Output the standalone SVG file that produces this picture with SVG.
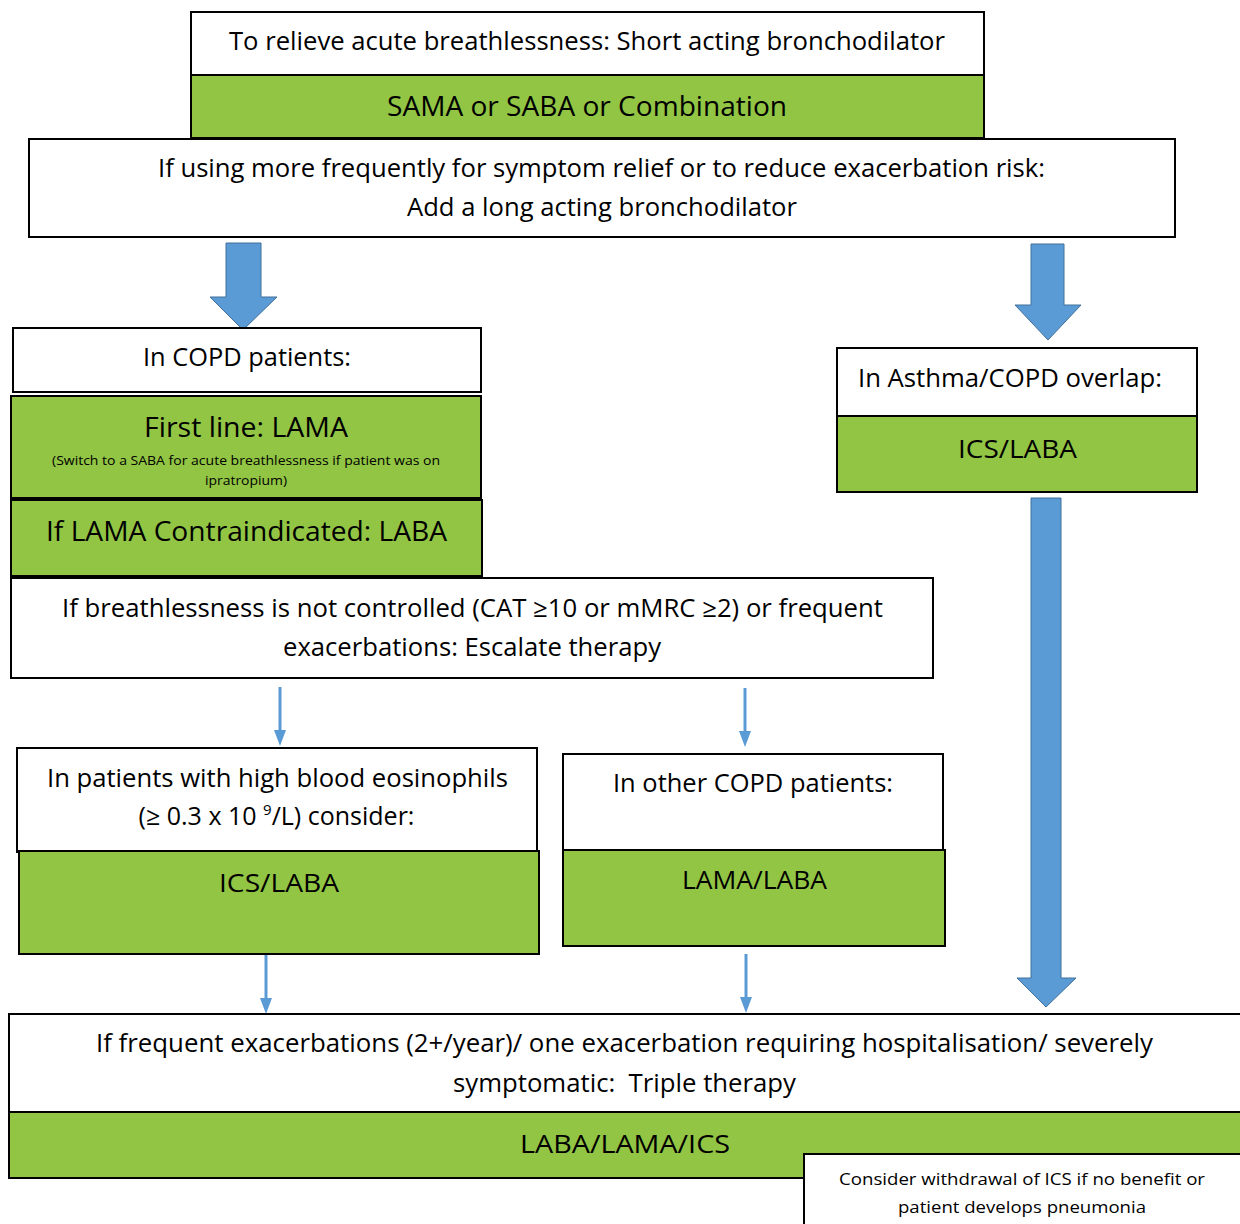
<svg xmlns="http://www.w3.org/2000/svg" width="1240" height="1224" viewBox="0 0 1240 1224">
<style>
.w{fill:#fff;stroke:#000;stroke-width:2}
.g{fill:#92C544;stroke:#000;stroke-width:2}
text{font-family:"Open Sans","Noto Sans",sans-serif;fill:#000;text-anchor:middle}
.t{font-size:25px}
.b{font-size:27px}
.s{font-size:12px}
.n{font-size:17px}
.big{fill:#5B9BD5;stroke:#41719C;stroke-width:1}
.thin{stroke:#5B9BD5;stroke-width:3;fill:none}
.head{fill:#5B9BD5}
</style>
<rect width="1240" height="1224" fill="#fff"/>
<g id="connectors">
<polygon class="big" points="226,243 261,243 261,297 277,297 243,330 210,297 226,297"/>
<polygon class="big" points="1031,244 1064,244 1064,305 1081,305 1048,340 1015,305 1031,305"/>
<polygon class="big" points="1031,498 1061,498 1061,978 1076,978 1046,1007 1017,978 1031,978"/>
<line class="thin" x1="280" y1="687" x2="280" y2="732"/><polygon class="head" points="274,730 286,730 280,746"/>
<line class="thin" x1="745" y1="688" x2="745" y2="733"/><polygon class="head" points="739,731 751,731 745,747"/>
<line class="thin" x1="266" y1="955" x2="266" y2="1000"/><polygon class="head" points="260,998 272,998 266,1014"/>
<line class="thin" x1="746" y1="954" x2="746" y2="999"/><polygon class="head" points="740,997 752,997 746,1013"/>
</g>
<g id="n-relieve">
<rect class="w" x="191" y="12" width="793" height="63"/>
<text class="t" x="587" y="50" textLength="716" lengthAdjust="spacingAndGlyphs">To relieve acute breathlessness: Short acting bronchodilator</text>
</g>
<g id="n-sama">
<rect class="g" x="191" y="75" width="793" height="63"/>
<text class="b" x="587" y="116" textLength="400" lengthAdjust="spacingAndGlyphs">SAMA or SABA or Combination</text>
</g>
<g id="n-add">
<rect class="w" x="29" y="139" width="1146" height="98"/>
<text class="t" x="601.5" y="177" textLength="887" lengthAdjust="spacingAndGlyphs">If using more frequently for symptom relief or to reduce exacerbation risk:</text>
<text class="t" x="602" y="216" textLength="390" lengthAdjust="spacingAndGlyphs">Add a long acting bronchodilator</text>
</g>
<g id="n-copd">
<rect class="w" x="13" y="328" width="468" height="64"/>
<text class="t" x="247" y="366" textLength="208" lengthAdjust="spacingAndGlyphs">In COPD patients:</text>
</g>
<g id="n-lama">
<rect class="g" x="11" y="396" width="470" height="102"/>
<text class="b" x="246" y="437" textLength="204" lengthAdjust="spacingAndGlyphs">First line: LAMA</text>
<text class="s" x="246" y="465" textLength="388" lengthAdjust="spacingAndGlyphs">(Switch to a SABA for acute breathlessness if patient was on</text>
<text class="s" x="246" y="485" textLength="82" lengthAdjust="spacingAndGlyphs">ipratropium)</text>
</g>
<g id="n-laba">
<rect class="g" x="11" y="500" width="471" height="76"/>
<text class="b" x="246.5" y="541" textLength="401" lengthAdjust="spacingAndGlyphs">If LAMA Contraindicated: LABA</text>
</g>
<g id="n-escalate">
<rect class="w" x="11" y="578" width="922" height="100"/>
<text class="t" x="472.5" y="617" textLength="821" lengthAdjust="spacingAndGlyphs">If breathlessness is not controlled (CAT ≥10 or mMRC ≥2) or frequent</text>
<text class="t" x="472" y="656" textLength="378" lengthAdjust="spacingAndGlyphs">exacerbations: Escalate therapy</text>
</g>
<g id="n-asthma">
<rect class="w" x="837" y="348" width="360" height="68"/>
<text class="t" x="1010" y="387" textLength="304" lengthAdjust="spacingAndGlyphs">In Asthma/COPD overlap:</text>
</g>
<g id="n-asthma-icslaba">
<rect class="g" x="837" y="416" width="360" height="76"/>
<text class="t" x="1017.5" y="458" textLength="119" lengthAdjust="spacingAndGlyphs">ICS/LABA</text>
</g>
<g id="n-eos">
<rect class="w" x="17" y="748" width="520" height="104"/>
<text class="t" x="277.5" y="787" textLength="461" lengthAdjust="spacingAndGlyphs">In patients with high blood eosinophils</text>
<text class="t" x="276.5" y="825" font-size="24" xml:space="preserve">(≥ 0.3 x 10 <tspan font-size="15" dy="-10">9</tspan><tspan dy="10">/L) consider:</tspan></text>
</g>
<g id="n-eos-icslaba">
<rect class="g" x="19" y="851" width="520" height="103"/>
<text class="t" x="279" y="892" textLength="120" lengthAdjust="spacingAndGlyphs">ICS/LABA</text>
</g>
<g id="n-other">
<rect class="w" x="563" y="754" width="380" height="96"/>
<text class="t" x="753" y="792" textLength="280" lengthAdjust="spacingAndGlyphs">In other COPD patients:</text>
</g>
<g id="n-other-lamalaba">
<rect class="g" x="563" y="850" width="382" height="96"/>
<text class="t" x="754.5" y="889" textLength="145" lengthAdjust="spacingAndGlyphs">LAMA/LABA</text>
</g>
<g id="n-triple">
<rect class="w" x="9" y="1014" width="1240" height="98"/>
<text class="t" x="624.5" y="1052" textLength="1057" lengthAdjust="spacingAndGlyphs">If frequent exacerbations (2+/year)/ one exacerbation requiring hospitalisation/ severely</text>
<text class="t" x="624.5" y="1092" textLength="343" lengthAdjust="spacingAndGlyphs" xml:space="preserve">symptomatic:  Triple therapy</text>
</g>
<g id="n-triple-drugs">
<rect class="g" x="9" y="1112" width="1240" height="66"/>
<text class="t" x="625" y="1153" textLength="210" lengthAdjust="spacingAndGlyphs">LABA/LAMA/ICS</text>
</g>
<g id="n-withdraw">
<rect class="w" x="804" y="1154" width="445" height="80"/>
<text class="n" x="1022" y="1185" textLength="366" lengthAdjust="spacingAndGlyphs">Consider withdrawal of ICS if no benefit or</text>
<text class="n" x="1022" y="1213" textLength="248" lengthAdjust="spacingAndGlyphs">patient develops pneumonia</text>
</g>
</svg>
